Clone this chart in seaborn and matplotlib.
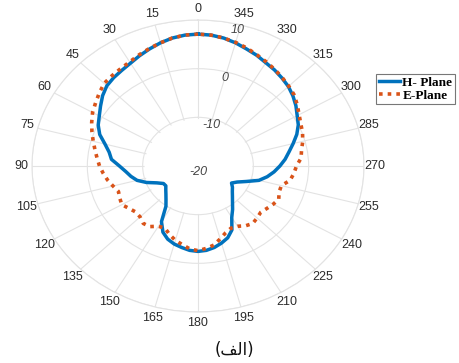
import numpy as np
import pandas as pd
import matplotlib
matplotlib.use("Agg")
import matplotlib.pyplot as plt
import seaborn as sns

# Measured radiation pattern (dB), angles counter-clockwise from boresight
angles_deg = list(range(0, 361, 5))

h_plane = [
    7.1, 7.0, 6.7, 6.2, 5.6, 5.0, 4.4, 4.0, 3.7, 3.3,
    2.5, 1.5, 0.6, -0.1, -1.1, -2.6, -3.7, -4.3, -5.8, -6.9,
    -7.7, -8.6, -10.1, -11.8, -12.8, -12.9, -12.4, -11.8, -11.0, -9.9,
    -6.8, -5.0, -4.0, -3.4, -3.0, -2.6, -2.45,
    -2.6, -3.0, -3.6, -4.3, -5.5, -7.8, -9.1, -10.3, -11.2, -11.9,
    -12.4, -13.0, -12.2, -10.7, -8.6, -7.3, -6.2, -5.2, -4.2, -3.3,
    -2.2, -1.0, 0.0, 0.7, 1.6, 2.4, 3.1, 3.6, 4.1, 4.5,
    5.1, 5.6, 6.2, 6.7, 7.0,
    7.1,
]

e_plane = [
    7.1, 7.0, 6.7, 6.2, 5.7, 5.2, 4.7, 4.4, 4.2, 4.0,
    3.3, 2.6, 2.0, 1.2, 0.4, -0.4, -1.1, -1.7, -2.2, -2.8,
    -3.4, -4.1, -4.7, -4.4, -4.1, -4.8, -5.3, -5.2, -4.6, -4.8,
    -5.7, -5.9, -5.0, -4.2, -3.6, -2.9, -2.6,
    -3.0, -3.5, -4.5, -5.4, -5.9, -5.7, -5.0, -4.6, -4.9, -5.2,
    -4.8, -4.3, -3.9, -4.4, -4.4, -3.1, -2.6, -2.2, -1.3, -1.0,
    -0.4, 0.1, 0.5, 1.1, 1.9, 2.7, 3.2, 3.7, 4.2, 4.7,
    5.2, 5.8, 6.3, 6.7, 7.0,
    7.1,
]

theta_ticks = list(range(0, 360, 15))
r_ticks = [-20, -10, 0, 10]
series_names = ["H- Plane", "E-Plane"]
# "(الف)" written in visual order with Arabic presentation forms
caption = "(" + "\uFED2\uFEDF\uFE8D" + ")"

df = pd.DataFrame({
    "theta": np.deg2rad(angles_deg),
    "H": h_plane,
    "E": e_plane,
})

blue = "#0072BD"
orange = "#D95319"
grid_col = "#e3e3e3"

fig = plt.figure(figsize=(4.6, 3.63), dpi=100)
ax = fig.add_axes([32 / 460, 51 / 363, 332 / 460, 292 / 363], projection="polar")
ax.set_aspect("auto")
ax.set_theta_zero_location("N")
ax.set_theta_direction(1)
ax.set_ylim(-20, 10)

# spokes sit under the blank hub; rings and radial labels stay above it
ax.xaxis.set_zorder(0.5)
ax.yaxis.set_zorder(2.5)

hub = np.linspace(0, 2 * np.pi, 361)
ax.fill_between(hub, -20, -10.25, color="white", zorder=1, linewidth=0)

sns.lineplot(data=df, x="theta", y="H", sort=False, ax=ax, color=blue,
             linewidth=2.5, label=series_names[0], zorder=3)
sns.lineplot(data=df, x="theta", y="E", sort=False, ax=ax, color=orange,
             linewidth=2.6, linestyle=(0, (1, 1.4)), label=series_names[1], zorder=4)

ax.set_xlabel("")
ax.set_ylabel("")
ax.set_thetagrids(theta_ticks, [str(t) for t in theta_ticks],
                  fontsize=9, color="#2b2b2b", family="Liberation Sans")
ax.set_rticks(r_ticks)
ax.set_yticklabels([str(t) for t in r_ticks], fontsize=9, color="#444444",
                   style="italic", family="Liberation Sans")
ax.set_rlabel_position(346)
ax.tick_params(axis="x", pad=-2.5)
ax.grid(True, color=grid_col, linewidth=0.8)
ax.spines["polar"].set_color(grid_col)
ax.spines["polar"].set_linewidth(0.8)
for lab in ax.get_yticklabels():
    lab.set_horizontalalignment("center")
    lab.set_verticalalignment("top")

leg = ax.legend(loc="upper left", bbox_to_anchor=(376 / 460, 1 - 74 / 363),
                bbox_transform=fig.transFigure, frameon=True, fancybox=False,
                prop={"family": "Liberation Serif", "weight": "bold", "size": 9.5},
                handlelength=1.6, handletextpad=0.2, borderpad=0.2,
                labelspacing=0.05, borderaxespad=0)
leg.get_frame().set_edgecolor("#555555")
leg.get_frame().set_linewidth(0.8)
leg.set_zorder(6)

fig.text(234 / 460, 1 - 350 / 363, caption, ha="center", va="center",
         fontsize=12, family=["DejaVu Sans"], color="#111111")

fig.savefig("out.png", dpi=100)
